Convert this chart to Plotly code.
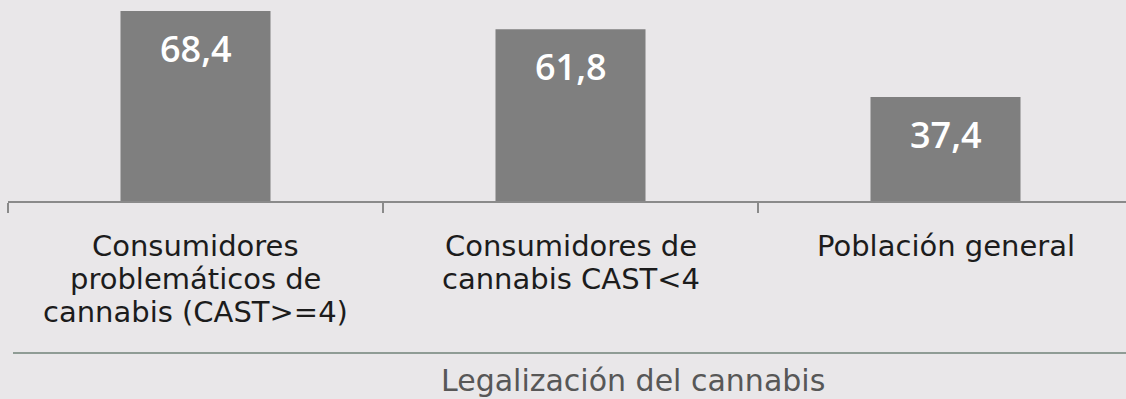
import plotly.graph_objects as go

# Survey results: support for cannabis legalisation (%)
categories = [
    "Consumidores problemáticos de cannabis (CAST>=4)",
    "Consumidores de cannabis CAST<4",
    "Población general",
]
category_lines = [
    ["Consumidores", "problemáticos de", "cannabis (CAST>=4)"],
    ["Consumidores de", "cannabis CAST<4"],
    ["Población general"],
]
values = [68.4, 61.8, 37.4]
value_labels = ["68,4", "61,8", "37,4"]
group_title = "Legalización del cannabis"

BG = "#e9e7e9"
BAR = "#7f7f7f"
AXIS = "#8a8a8a"

W, H = 1126, 399
plot_left, plot_top, axis_y = 8, 0, 201
cat_width = 375.0
plot_w = W - plot_left
x_right = -0.5 + plot_w / cat_width
px_per_unit = 190.0 / 68.4
y_top = (axis_y - plot_top) / px_per_unit


def paper_y(py):
    """Pixel row below the top edge -> paper y coordinate."""
    return (axis_y - py) / axis_y


fig = go.Figure()
fig.add_trace(go.Bar(
    x=categories,
    y=values,
    width=0.4,
    marker=dict(color=BAR, line=dict(width=0)),
    hoverinfo="skip",
))

# value labels inside the bars
for cat, v, lab in zip(categories, values, value_labels):
    fig.add_annotation(
        x=cat, y=v, xref="x", yref="y",
        text=lab, showarrow=False,
        yanchor="middle", yshift=-37.5,
        font=dict(family="Open Sans", size=36, color="white", weight=600),
    )

# category labels, one line at a time
line_pitch = 33
first_line_mid = 246
for cat, lines in zip(categories, category_lines):
    for i, line in enumerate(lines):
        fig.add_annotation(
            x=cat, xref="x", y=paper_y(first_line_mid + i * line_pitch),
            yref="paper", text=line, showarrow=False,
            yanchor="middle", xanchor="center",
            font=dict(family="DejaVu Sans", size=29, color="#1c1c1c"),
        )

# group title under the category labels
fig.add_annotation(
    x=1.1667, xref="x", y=paper_y(380), yref="paper",
    text=group_title, showarrow=False,
    yanchor="middle",
    font=dict(family="DejaVu Sans", size=30, color="#575757"),
)

# divider between category level and group level
fig.add_shape(
    type="line", xref="paper", yref="paper",
    x0=(13 - plot_left) / plot_w, x1=1.0,
    y0=paper_y(353), y1=paper_y(353),
    line=dict(color="#8f9c95", width=2),
)

fig.update_layout(
    width=W, height=H,
    margin=dict(l=plot_left, r=0, t=plot_top, b=H - axis_y),
    paper_bgcolor=BG, plot_bgcolor=BG,
    showlegend=False,
    xaxis=dict(
        type="category",
        range=[-0.5, x_right],
        tickson="boundaries",
        ticks="outside", ticklen=10, tickwidth=1.5, tickcolor=AXIS,
        showline=True, linecolor=AXIS, linewidth=1.5,
        showgrid=False, zeroline=False,
        showticklabels=False,
        fixedrange=True,
    ),
    yaxis=dict(
        range=[0, y_top], visible=False, showgrid=False, zeroline=False,
        fixedrange=True,
    ),
)

fig.write_html("out.html")
